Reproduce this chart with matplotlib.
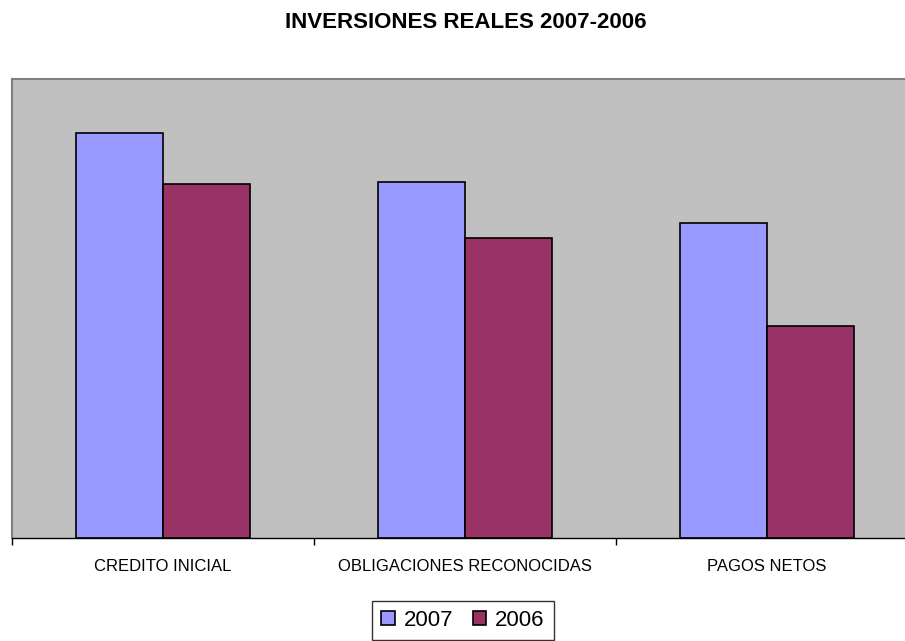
import matplotlib
matplotlib.use("Agg")
import matplotlib.pyplot as plt
import numpy as np

plt.rcParams['font.family'] = ['Liberation Sans', 'DejaVu Sans']

categories = ["CREDITO INICIAL", "OBLIGACIONES RECONOCIDAS", "PAGOS NETOS"]
values_2007 = [405, 356, 315]
values_2006 = [354, 300, 212]

fig = plt.figure(figsize=(9.05, 6.41), dpi=100)
ax = fig.add_axes([12 / 905, 103 / 641, 906 / 905, 459 / 641])
ax.set_facecolor("#c0c0c0")

x = np.arange(len(categories))
w = 0.288
ax.bar(x - w / 2, values_2007, w, color="#9999ff", edgecolor="black", linewidth=1.2, label="2007")
ax.bar(x + w / 2, values_2006, w, color="#993366", edgecolor="black", linewidth=1.2, label="2006")

ax.set_xlim(-0.5, 2.5)
ax.set_ylim(0, 459)
ax.set_yticks([])

ax.set_xticks(np.arange(-0.5, 3, 1))
ax.set_xticklabels([])
ax.set_xticks(x, minor=True)
ax.set_xticklabels(categories, minor=True, fontsize=12)
ax.tick_params(axis="x", which="major", length=5, width=1, color="black", direction="out")
ax.tick_params(axis="x", which="minor", length=0, pad=15)

for s in ["top", "left"]:
    ax.spines[s].set_color("#808080")
    ax.spines[s].set_linewidth(1.5)
ax.spines["right"].set_visible(False)
ax.spines["bottom"].set_color("black")
ax.spines["bottom"].set_linewidth(1)

fig.text(466 / 905, 1 - 22 / 641, "INVERSIONES REALES 2007-2006", ha="center", va="center",
         fontsize=16, fontweight="bold")

leg = fig.legend(loc="upper center", bbox_to_anchor=(463 / 905, 1 - 601 / 641), ncol=2,
                 fontsize=16, frameon=True, fancybox=False, handlelength=0.6,
                 handleheight=0.6, handletextpad=0.4, columnspacing=0.9,
                 borderpad=0.4, borderaxespad=0)
leg.get_frame().set_edgecolor("black")
leg.get_frame().set_linewidth(1)

fig.savefig("out.png", dpi=100)
